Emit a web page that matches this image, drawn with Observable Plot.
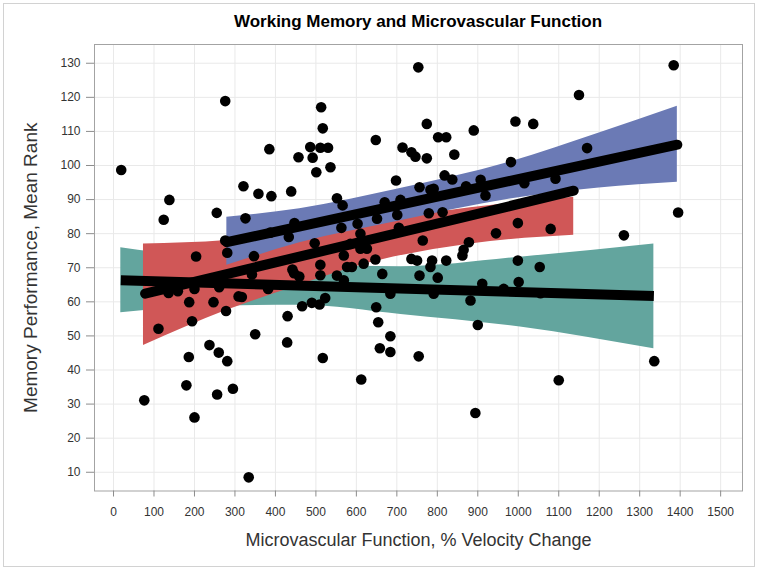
<!DOCTYPE html>
<html>
<head>
<meta charset="utf-8">
<script src="https://cdn.jsdelivr.net/npm/d3@7"></script>
<script src="https://cdn.jsdelivr.net/npm/@observablehq/plot@0.6"></script>
<style>
  body { margin: 0; background: #fff; }
  #wrap { position: relative; width: 760px; height: 572px; font-family: "Liberation Sans", Arial, sans-serif; }
  #border { position: absolute; left: 3px; top: 3px; width: 752px; height: 564px; border: 1px solid #d2d2d2; box-sizing: border-box; }
  #title { position: absolute; left: 94px; width: 648px; top: 10px; line-height: 24px; text-align: center; font-weight: bold; font-size: 17px; color: #000; }
  #chart { position: absolute; left: 0; top: 40px; }
</style>
</head>
<body>
<div id="wrap">
  <div id="border"></div>
  <div id="title">Working Memory and Microvascular Function</div>
  <div id="chart"></div>
</div>
<script>
// Axis ticks
const xTicks = [0,100,200,300,400,500,600,700,800,900,1000,1100,1200,1300,1400,1500];
const yTicks = [10,20,30,40,50,60,70,80,90,100,110,120,130];
const xLabel = "Microvascular Function, % Velocity Change";
const yLabel = "Memory Performance, Mean Rank";

// Scatter points (x = % velocity change, y = mean rank)
const pointX = [276,19,385,457,486,511,530,492,501,321,358,390,439,138,124,255,326,447,387,433,
  276,281,347,204,497,442,753,513,517,993,890,774,648,802,822,714,736,746,774,842,
  536,698,982,818,837,756,783,791,871,907,919,552,566,670,709,651,701,779,813,563,
  603,705,945,999,764,878,865,862,511,511,585,610,626,569,647,736,750,787,822,999,
  1384,1150,1037,1170,1015,1092,1395,1080,1261,1053,446,459,342,136,159,200,261,382,187,247,
  309,317,278,466,490,430,194,111,350,429,237,260,281,186,180,295,256,76,200,334,
  783,664,756,801,552,569,577,589,618,911,964,1001,684,791,882,509,523,649,654,684,
  900,658,684,517,754,612,894,1336,1100,610,1055];
const pointY = [118.9,98.7,104.8,102.4,105.4,105.2,105.2,102.3,98.0,93.9,91.7,91.0,92.4,89.9,84.1,86.1,84.5,83.1,80.3,79.0,
  78.0,74.4,73.4,73.3,77.2,69.5,128.8,117.1,110.9,112.9,110.3,112.2,107.5,108.3,108.3,105.3,103.9,102.6,102.1,103.2,
  99.5,95.6,101.0,97.1,95.9,93.6,92.9,93.2,93.9,95.8,91.2,90.4,88.3,89.2,89.9,84.4,85.5,86.0,86.3,81.7,
  82.9,81.7,80.1,83.1,78.0,77.5,75.3,73.6,70.9,67.8,77.0,75.6,75.6,73.6,72.4,72.6,72.1,72.1,72.1,72.1,
  129.4,120.7,112.2,105.1,94.8,96.1,86.2,81.4,79.5,70.2,68.4,67.4,68.0,62.6,63.1,63.8,64.3,63.8,59.9,59.9,
  61.6,61.4,57.3,58.7,59.7,55.8,54.3,52.1,50.5,48.1,47.3,45.1,42.6,43.8,35.5,34.5,32.8,31.1,26.1,8.5,
  70.2,68.2,67.7,67.1,67.7,66.3,70.2,70.2,71.2,65.3,63.8,65.8,62.4,62.4,60.4,59.2,61.1,58.4,54.0,49.9,
  53.2,46.4,45.3,43.5,44.0,37.2,27.4,42.6,37.0,80.0,62.5];

// Confidence bands and fit lines
const tealBandX  = [18, 200, 460, 710, 1005, 1335];
const tealBandLo = [56.8, 58.5, 59.0, 56.3, 52.6, 46.2];
const tealBandHi = [75.9, 73.2, 71.2, 70.3, 73.1, 77.0];
const tealFitX = [18, 1335];
const tealFitY = [66.3, 61.7];

const redBandX  = [74, 280, 437, 600, 882, 1137];
const redBandLo = [47.2, 57.5, 64.0, 70.4, 77.0, 79.5];
const redBandHi = [77.0, 78.0, 80.5, 83.0, 87.6, 90.7];
const redFitX = [78, 1137];
const redFitY = [62.4, 92.6];

const blueBandX  = [280, 460, 700, 980, 1200, 1393];
const blueBandLo = [70.7, 77.3, 83.6, 90.2, 93.4, 95.1];
const blueBandHi = [84.8, 87.3, 93.0, 101.0, 109.5, 117.4];
const blueFitX = [280, 1393];
const blueFitY = [77.5, 106.1];

const tealColor = "#63a59e";
const redColor = "#d05757";
const blueColor = "#6b7ab5";

const band = (xs, lo, hi) => xs.map((x, i) => ({x, lo: lo[i], hi: hi[i]}));
const fit = (xs, ys) => xs.map((x, i) => ({x, y: ys[i]}));
const points = pointX.map((x, i) => ({x, y: pointY[i]}));

const FONT = '"Liberation Sans", Arial, sans-serif';

const chart = Plot.plot({
  width: 760,
  height: 532,
  marginLeft: 94,
  marginRight: 18,
  marginTop: 4,
  marginBottom: 81.5,
  style: {fontFamily: FONT, background: "transparent", color: "#333"},
  x: {domain: [-47, 1554]},
  y: {domain: [4.5, 135.5]},
  marks: [
    Plot.gridX(xTicks, {stroke: "#e9e9e9", strokeOpacity: 1}),
    Plot.gridY(yTicks, {stroke: "#e9e9e9", strokeOpacity: 1}),
    Plot.areaY(band(tealBandX, tealBandLo, tealBandHi), {x: "x", y1: "lo", y2: "hi", fill: tealColor, curve: "monotone-x"}),
    Plot.areaY(band(redBandX, redBandLo, redBandHi), {x: "x", y1: "lo", y2: "hi", fill: redColor, curve: "monotone-x"}),
    Plot.areaY(band(blueBandX, blueBandLo, blueBandHi), {x: "x", y1: "lo", y2: "hi", fill: blueColor, curve: "monotone-x"}),
    Plot.line(fit(tealFitX, tealFitY), {x: "x", y: "y", stroke: "#000", strokeWidth: 10, strokeLinecap: "butt"}),
    Plot.line(fit(redFitX, redFitY), {x: "x", y: "y", stroke: "#000", strokeWidth: 10, strokeLinecap: "round"}),
    Plot.line(fit(blueFitX, blueFitY), {x: "x", y: "y", stroke: "#000", strokeWidth: 10, strokeLinecap: "round"}),
    Plot.dot(points, {x: "x", y: "y", r: 5.3, fill: "#000", stroke: "none"}),
    Plot.frame({stroke: "#a3a3a3"}),
    Plot.axisX(xTicks, {tickSize: 6, tickPadding: 10, fontSize: 12, tickFormat: "d", label: null, stroke: "#8c8c8c", fill: "#333"}),
    Plot.axisY(yTicks, {tickSize: 8, tickPadding: 6, fontSize: 12, tickFormat: "d", label: null, stroke: "#8c8c8c", fill: "#333"}),
    Plot.text([xLabel], {text: d => d, frameAnchor: "bottom", dy: 49.5, fontSize: 18, lineAnchor: "middle", textAnchor: "middle", fill: "#333"}),
    Plot.text([yLabel], {text: d => d, frameAnchor: "left", dx: -64, rotate: -90, fontSize: 19, lineAnchor: "middle", textAnchor: "middle", fill: "#333"})
  ]
});
document.getElementById("chart").appendChild(chart);
</script>
</body>
</html>
